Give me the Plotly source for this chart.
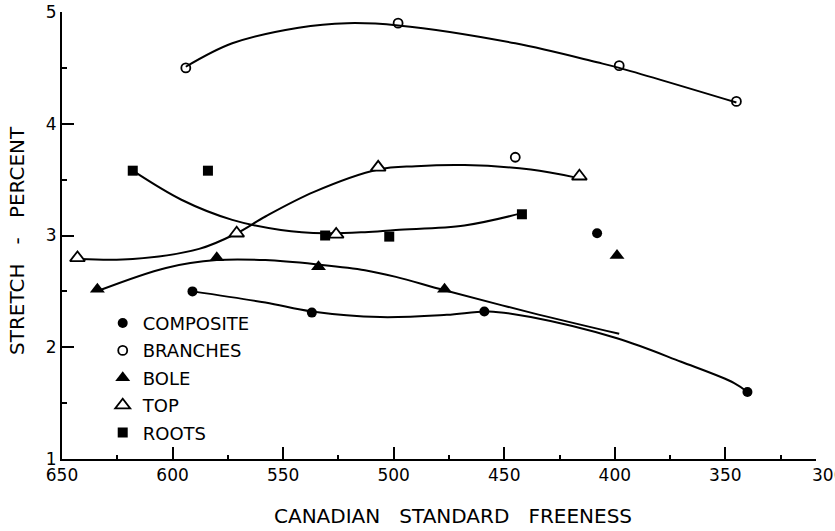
import plotly.graph_objects as go

# ---- data ----
composite_x = [591, 537, 459, 408, 340]
composite_y = [2.5, 2.31, 2.32, 3.02, 1.6]
branches_x = [594, 498, 445, 398, 345]
branches_y = [4.5, 4.9, 3.7, 4.52, 4.2]
bole_x = [634, 580, 534, 477, 399]
bole_y = [2.52, 2.8, 2.72, 2.52, 2.82]
top_x = [643, 571, 526, 507, 416]
top_y = [2.8, 3.02, 3.01, 3.61, 3.53]
roots_x = [618, 584, 531, 502, 442]
roots_y = [3.58, 3.58, 3.0, 2.99, 3.19]

# fitted (hand-drawn) curves
fit_branches_x = [594, 573, 543, 521, 498, 445, 408, 398, 345]
fit_branches_y = [4.51, 4.72, 4.86, 4.90, 4.88, 4.72, 4.55, 4.50, 4.19]
fit_top_x = [642, 618, 588, 571, 558, 536, 507, 490, 468, 438, 418]
fit_top_y = [2.79, 2.79, 2.88, 3.02, 3.17, 3.39, 3.59, 3.62, 3.63, 3.59, 3.52]
fit_roots_x = [618, 596, 573, 551, 531, 513, 499, 468, 442]
fit_roots_y = [3.58, 3.32, 3.14, 3.05, 3.02, 3.03, 3.05, 3.09, 3.2]
fit_bole_x = [633, 603, 580, 558, 534, 513, 499, 477, 438, 398]
fit_bole_y = [2.51, 2.71, 2.78, 2.78, 2.74, 2.69, 2.63, 2.51, 2.31, 2.12]
fit_comp_x = [591, 558, 537, 506, 476, 457, 438, 399, 370, 346, 340]
fit_comp_y = [2.5, 2.4, 2.32, 2.27, 2.29, 2.32, 2.27, 2.08, 1.87, 1.68, 1.6]

x_ticks = [650, 600, 550, 500, 450, 400, 350]
x_minor = [625, 575, 525, 475, 425, 375, 325]
y_ticks = [1, 2, 3, 4, 5]
y_minor = [1.5, 2.5, 3.5, 4.5]
x_end = 309

FONT = "DejaVu Sans"
fig = go.Figure()

line_style = dict(color="black", width=2, shape="spline", smoothing=1.0)
for fx, fy in [(fit_branches_x, fit_branches_y), (fit_top_x, fit_top_y),
               (fit_roots_x, fit_roots_y), (fit_bole_x, fit_bole_y),
               (fit_comp_x, fit_comp_y)]:
    fig.add_trace(go.Scatter(x=fx, y=fy, mode="lines", line=line_style,
                             showlegend=False, hoverinfo="skip"))

series = [
    ("COMPOSITE", composite_x, composite_y, dict(symbol="circle", size=10, color="black")),
    ("BRANCHES", branches_x, branches_y, dict(symbol="circle-open", size=9, color="black", line=dict(width=1.8, color="black"))),
    ("BOLE", bole_x, bole_y, dict(symbol="triangle-up", size=13, color="black")),
    ("TOP", top_x, top_y, dict(symbol="triangle-up", size=13, color="white", line=dict(width=1.8, color="black"))),
    ("ROOTS", roots_x, roots_y, dict(symbol="square", size=10, color="black")),
]
for name, sx, sy, mk in series:
    fig.add_trace(go.Scatter(x=sx, y=sy, mode="markers", name=name, marker=mk,
                             legendgroup=name))

fig.update_layout(
    template="none",
    width=835, height=531,
    margin=dict(l=62, r=19, t=12, b=72, autoexpand=False),
    paper_bgcolor="white", plot_bgcolor="white",
    font=dict(family=FONT, color="black", size=17),
    showlegend=True,
    legend=dict(x=0.054, y=0.345, xanchor="left", yanchor="top",
                font=dict(family=FONT, size=18, color="black"),
                bgcolor="rgba(0,0,0,0)", tracegroupgap=1, traceorder="grouped"),
    annotations=[
        dict(text="CANADIAN   STANDARD   FREENESS", xref="paper", yref="paper",
             x=0.519, y=-0.1275, xanchor="center", yanchor="middle",
             showarrow=False, font=dict(family=FONT, size=20, color="black")),
        dict(text="STRETCH   -   PERCENT", xref="paper", yref="paper",
             x=-0.0597, y=0.49, xanchor="center", yanchor="middle", textangle=-90,
             showarrow=False, font=dict(family=FONT, size=20, color="black")),
        dict(text="300", xref="paper", yref="paper", x=1.016, y=-0.036,
             xanchor="center", yanchor="middle", showarrow=False,
             font=dict(family=FONT, size=17, color="black")),
    ],
)
fig.update_xaxes(range=[650, x_end], tickvals=x_ticks + [x_end],
                 ticktext=[str(v) for v in x_ticks] + [""],
                 automargin=False,
                 showline=True, linecolor="black", linewidth=2,
                 ticks="inside", ticklen=12, tickwidth=2, tickcolor="black",
                 minor=dict(tickvals=x_minor, ticks="inside",
                            ticklen=4, tickwidth=2, tickcolor="black"),
                 showgrid=False, zeroline=False, tickfont=dict(size=17))
fig.update_yaxes(range=[1, 5], tickvals=y_ticks,
                 automargin=False,
                 showline=True, linecolor="black", linewidth=2,
                 ticks="inside", ticklen=12, tickwidth=2, tickcolor="black",
                 minor=dict(tickvals=y_minor, ticks="inside",
                            ticklen=5, tickwidth=2, tickcolor="black"),
                 showgrid=False, zeroline=False, tickfont=dict(size=17))

fig.write_html("out.html", config={"displayModeBar": False},
               post_script="document.body.style.margin='0';document.body.style.overflow='hidden';")
